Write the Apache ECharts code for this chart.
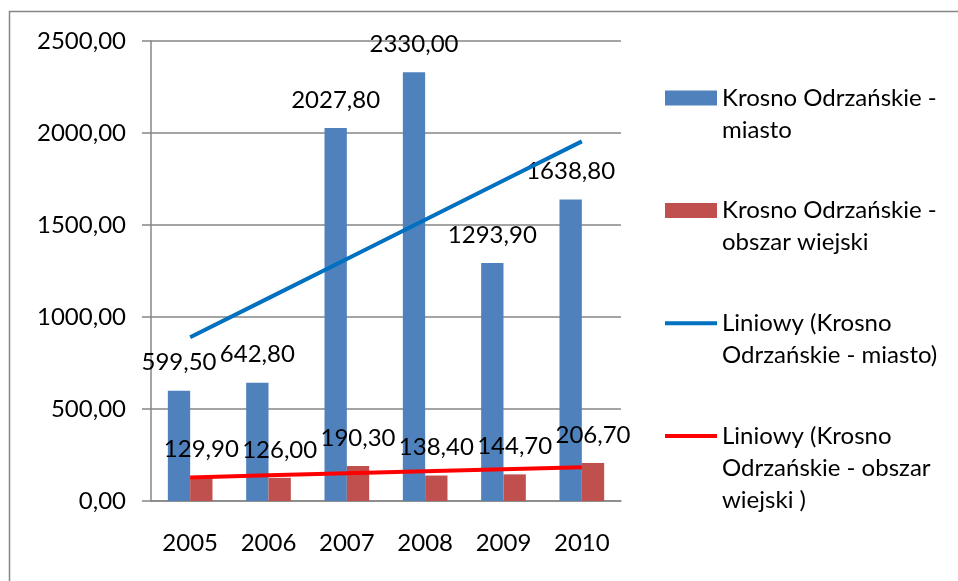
<!DOCTYPE html>
<html>
<head>
<meta charset="utf-8">
<script src="https://cdn.jsdelivr.net/npm/echarts@6/dist/echarts.min.js"></script>
<style>
  html, body { margin: 0; padding: 0; background: #fff; }
  #chart { width: 958px; height: 581px; }
</style>
</head>
<body>
<div id="chart"></div>
<script>
// Years on the category axis
const years = ['2005', '2006', '2007', '2008', '2009', '2010'];

// Values per year
const miasto = [599.5, 642.8, 2027.8, 2330.0, 1293.9, 1638.8];
const obszarWiejski = [129.9, 126.0, 190.3, 138.4, 144.7, 206.7];

// Series names
const nameMiasto = 'Krosno Odrzańskie - miasto';
const nameWiejski = 'Krosno Odrzańskie - obszar wiejski';
const nameTrendMiasto = 'Liniowy (Krosno Odrzańskie - miasto)';
const nameTrendWiejski = 'Liniowy (Krosno Odrzańskie - obszar wiejski )';

// Wrapped legend text, one entry per line
const legendLines = {};
legendLines[nameMiasto] = ['Krosno Odrzańskie -', 'miasto'];
legendLines[nameWiejski] = ['Krosno Odrzańskie -', 'obszar wiejski'];
legendLines[nameTrendMiasto] = ['Liniowy (Krosno', 'Odrzańskie - miasto)'];
legendLines[nameTrendWiejski] = ['Liniowy (Krosno', 'Odrzańskie - obszar', 'wiejski )'];

// Y axis ticks
const yMin = 0, yMax = 2500, yStep = 500;

// Least-squares linear trend over the category index
function linearTrend(values) {
  const n = values.length;
  let sx = 0, sy = 0, sxx = 0, sxy = 0;
  values.forEach((v, i) => { sx += i; sy += v; sxx += i * i; sxy += i * v; });
  const slope = (n * sxy - sx * sy) / (n * sxx - sx * sx);
  const icpt = (sy - slope * sx) / n;
  return values.map((_, i) => icpt + slope * i);
}

const fmt = v => Number(v).toFixed(2).replace('.', ',');
const FONT = 'Lato';
const FS = 24;
const LH = 32;

// Legend text is centred on its icon; blank lead lines keep the icon beside the first line
const legendText = n => {
  const lines = legendLines[n];
  return '\n'.repeat(lines.length - 1) + lines.join('\n');
};

const hiddenDot = { color: 'rgba(0,0,0,0)', borderWidth: 0 };

const legendBase = {
  orient: 'vertical',
  left: 663, padding: 0,
  itemWidth: 52, itemHeight: 15, itemGap: 16.6,
  itemStyle: { borderWidth: 0 },
  textStyle: { fontFamily: FONT, fontSize: FS, color: '#000', lineHeight: LH },
  formatter: legendText
};

const chart = echarts.init(document.getElementById('chart'), null, { renderer: 'canvas' });
chart.setOption({
  backgroundColor: '#ffffff',
  animation: false,
  textStyle: { fontFamily: FONT },
  graphic: [{
    type: 'rect',
    shape: { x: 9.5, y: 11.5, width: 1000, height: 700 },
    style: { fill: 'none', stroke: '#868686', lineWidth: 1.5 },
    silent: true, z: -10
  }],
  grid: { left: 151, right: 337, top: 41, bottom: 80, containLabel: false },
  legend: [
    Object.assign({}, legendBase, {
      top: 50,
      data: [
        { name: nameMiasto, icon: 'rect' },
        { name: nameWiejski, icon: 'rect' },
        { name: nameTrendMiasto, itemStyle: hiddenDot, lineStyle: { color: '#0070C0', width: 4 } }
      ]
    }),
    Object.assign({}, legendBase, {
      top: 356,
      data: [
        { name: nameTrendWiejski, itemStyle: hiddenDot, lineStyle: { color: '#FF0000', width: 4 } }
      ]
    })
  ],
  xAxis: {
    type: 'category',
    data: years,
    axisLine: { lineStyle: { color: '#868686', width: 1.5 } },
    axisTick: { length: 7, lineStyle: { color: '#868686', width: 1.5 } },
    axisLabel: { color: '#000', fontFamily: FONT, fontSize: FS, margin: 30 }
  },
  yAxis: {
    type: 'value',
    min: yMin, max: yMax, interval: yStep,
    axisLine: { show: true, lineStyle: { color: '#868686', width: 1.5 } },
    axisTick: { show: true, length: 9, lineStyle: { color: '#868686', width: 1.5 } },
    splitLine: { lineStyle: { color: '#868686', width: 1.5 } },
    axisLabel: { color: '#000', fontFamily: FONT, fontSize: FS, margin: 25, formatter: fmt }
  },
  series: [
    {
      name: nameMiasto, type: 'bar', data: miasto,
      barGap: '0%', barCategoryGap: '43%',
      itemStyle: { color: '#4F81BD' },
      label: { show: true, position: 'top', distance: 16, color: '#000', fontFamily: FONT, fontSize: FS, formatter: p => fmt(p.value) },
      z: 2
    },
    {
      name: nameWiejski, type: 'bar', data: obszarWiejski,
      itemStyle: { color: '#C0504D' },
      label: { show: true, position: 'top', distance: 16, color: '#000', fontFamily: FONT, fontSize: FS, formatter: p => fmt(p.value) },
      z: 2
    },
    {
      name: nameTrendMiasto, type: 'line', data: linearTrend(miasto),
      symbol: 'none', lineStyle: { color: '#0070C0', width: 4 },
      itemStyle: { color: '#0070C0' }, z: 5
    },
    {
      name: nameTrendWiejski, type: 'line', data: linearTrend(obszarWiejski),
      symbol: 'none', lineStyle: { color: '#FF0000', width: 4 },
      itemStyle: { color: '#FF0000' }, z: 5
    }
  ]
});
</script>
</body>
</html>
